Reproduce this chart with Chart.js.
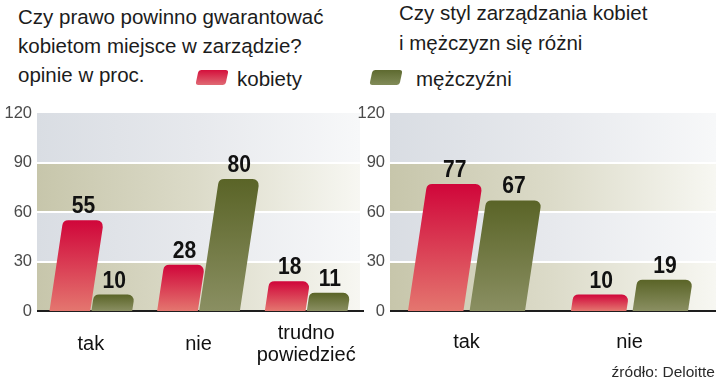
<!DOCTYPE html>
<html><head><meta charset="utf-8">
<script src="https://cdn.jsdelivr.net/npm/chart.js@4/dist/chart.umd.min.js"></script>
<style>
html,body{margin:0;padding:0;background:#fff;}
body{width:720px;height:382px;position:relative;overflow:hidden;font-family:"Liberation Sans",Arial,sans-serif;color:#1c1c1c;}
.t{position:absolute;font-size:20.5px;white-space:nowrap;}
#titleL{left:18px;top:2px;line-height:29px;}
#titleR{left:399px;top:-2px;line-height:30px;}
canvas{position:absolute;top:0;}
#cL{left:0;}
#cR{left:355px;}
.legtxt{position:absolute;top:68.6px;font-size:20.5px;line-height:20.5px;white-space:nowrap;}
.sw{position:absolute;top:70px;width:30px;height:15px;transform:skewX(-12deg);border-radius:3px;}
#src{position:absolute;right:5px;top:364px;font-size:15.5px;line-height:15.5px;color:#2a2a2a;white-space:nowrap;}
</style>
</head>
<body>
<div class="t" id="titleL">Czy prawo powinno gwarantować<br>kobietom miejsce w zarządzie?<br>opinie w proc.</div>
<div class="t" id="titleR">Czy styl zarządzania kobiet<br>i mężczyzn się różni</div>
<div class="sw" id="swK" style="left:197px;"></div>
<div class="legtxt" id="lgK" style="left:237px;"></div>
<div class="sw" id="swM" style="left:371px;"></div>
<div class="legtxt" id="lgM" style="left:416px;"></div>
<canvas id="cL" width="365" height="382"></canvas>
<canvas id="cR" width="365" height="382"></canvas>
<div id="src">źródło: Deloitte</div>
<script>
// ---- data ----
const seriesNames = ['kobiety', 'mężczyźni'];
const leftCategories = ['tak', 'nie', ['trudno', 'powiedzieć']];
const leftKobiety = [55, 28, 18];
const leftMezczyzni = [10, 80, 11];
const rightCategories = ['tak', 'nie'];
const rightKobiety = [77, 10];
const rightMezczyzni = [67, 19];
const yTicks = [0, 30, 60, 90, 120];

// ---- styles ----
const FONT = '"Liberation Sans", Arial, sans-serif';
const RED = {top: '#d0063a', bottom: '#e4766f', mid: '#d93e4c'};
const OLIVE = {top: '#5a6427', bottom: '#8a8f62', mid: '#6f773f'};

document.getElementById('lgK').textContent = seriesNames[0];
document.getElementById('lgM').textContent = seriesNames[1];
document.getElementById('swK').style.background = 'linear-gradient(#d4103c, #e06a74)';
document.getElementById('swM').style.background = 'linear-gradient(#5e6a30, #818b58)';

const SLANT = 0.15, RADIUS = 6;

// plot frame: alternating gradient bands, white grid lines, dark base line
const framePlugin = {
  id: 'frame',
  beforeDraw(chart, args, opts) {
    const {ctx, chartArea: a, scales: {y}} = chart;
    const sh = opts.shift || 0;
    const L = a.left + sh;
    const Rb = a.right + sh;
    ctx.save();
    for (let i = 0; i < yTicks.length - 1; i++) {
      const y0 = y.getPixelForValue(yTicks[i]);
      const y1 = y.getPixelForValue(yTicks[i + 1]);
      const g = ctx.createLinearGradient(L, 0, Rb, 0);
      if (i % 2 === 0) {
        g.addColorStop(0, '#c7c6ab'); g.addColorStop(0.5, '#dcdbc9'); g.addColorStop(1, '#f7f7f2');
      } else {
        g.addColorStop(0, '#d9dde3'); g.addColorStop(0.5, '#e7e9ed'); g.addColorStop(1, '#f7f8f9');
      }
      ctx.fillStyle = g;
      ctx.fillRect(L, y1, Rb - L, y0 - y1);
    }
    ctx.strokeStyle = '#ffffff';
    ctx.lineWidth = 2;
    yTicks.slice(1, -1).forEach(v => {
      const py = Math.round(y.getPixelForValue(v));
      ctx.beginPath(); ctx.moveTo(L, py); ctx.lineTo(Rb, py); ctx.stroke();
    });
    ctx.restore();
  },
  afterDatasetsDraw(chart, args, opts) {
    const {ctx, chartArea: a, scales: {y}} = chart;
    const sh = opts.shift || 0;
    const py = y.getPixelForValue(0);
    ctx.save();
    ctx.strokeStyle = '#1e1e1e';
    ctx.lineWidth = 2;
    ctx.beginPath();
    ctx.moveTo(a.left + sh, py);
    ctx.lineTo(a.right + sh + (opts.extendAxis || 0), py);
    ctx.stroke();
    ctx.restore();
  }
};

const barPlugin = {
  id: 'slantBars',
  beforeDatasetDraw() { return false; },
  afterDatasetsDraw(chart) {
    const ctx = chart.ctx;
    chart.data.datasets.forEach((ds, i) => {
      const meta = chart.getDatasetMeta(i);
      meta.data.forEach((el, j) => {
        const {x, y, base, width} = el.getProps(['x', 'y', 'base', 'width'], true);
        const h = base - y;
        const s = h * SLANT;
        const xl = x - width / 2, xr = x + width / 2;
        const b = base;
        const g = ctx.createLinearGradient(0, y, 0, base);
        g.addColorStop(0, ds.gradTop);
        g.addColorStop(1, ds.gradBottom);
        const r = Math.min(RADIUS, h / 2, width / 2);
        ctx.save();
        ctx.beginPath();
        ctx.moveTo(xl, b);
        ctx.arcTo(xl + s, y, xr + s, y, r);
        ctx.arcTo(xr + s, y, xr, b, r);
        ctx.lineTo(xr, b);
        ctx.closePath();
        ctx.fillStyle = g;
        ctx.fill();
        ctx.restore();
        ctx.save();
        ctx.font = 'bold 24.5px ' + FONT;
        ctx.fillStyle = '#111';
        ctx.textAlign = 'center';
        ctx.textBaseline = 'alphabetic';
        ctx.translate(x + s, y - 7);
        ctx.scale(0.86, 1);
        ctx.fillText(String(ds.data[j]), 0, 0);
        ctx.restore();
      });
    });
  }
};

function makeChart(id, categories, kob, mez, o) {
  return new Chart(document.getElementById(id), {
    type: 'bar',
    data: {
      labels: categories,
      datasets: [
        {label: seriesNames[0], data: kob, backgroundColor: RED.mid, gradTop: RED.top, gradBottom: RED.bottom,
         categoryPercentage: o.cat, barPercentage: o.bar},
        {label: seriesNames[1], data: mez, backgroundColor: OLIVE.mid, gradTop: OLIVE.top, gradBottom: OLIVE.bottom,
         categoryPercentage: o.cat, barPercentage: o.bar}
      ]
    },
    options: {
      responsive: false,
      animation: false,
      devicePixelRatio: 1,
      layout: {padding: {top: 113, left: 0, right: o.padRight, bottom: 0}},
      plugins: {legend: {display: false}, tooltip: {enabled: false}, title: {display: false},
                frame: {shift: o.shift, extendAxis: o.extendAxis}},
      scales: {
        x: {
          ticks: {font: {family: FONT, size: 20, lineHeight: 1.1}, color: '#111', padding: o.xPad,
                  crossAlign: 'center', maxRotation: 0, autoSkip: false},
          grid: {display: false, drawTicks: false, tickLength: 0},
          border: {display: false},
          afterFit: s => { s.height = 71; s.paddingLeft = 0; s.paddingRight = 0; }
        },
        y: {
          min: 0, max: 120,
          afterBuildTicks: s => { s.ticks = yTicks.map(v => ({value: v})); },
          ticks: {font: {family: FONT, size: 16.5}, color: '#4a4a4a', padding: o.yPad},
          grid: {display: false, drawTicks: false},
          border: {display: false},
          afterFit: s => { s.width = o.yWidth; s.paddingTop = 0; s.paddingBottom = 0; }
        }
      }
    },
    plugins: [framePlugin, barPlugin]
  });
}

makeChart('cL', leftCategories, leftKobiety, leftMezczyzni,
  {cat: 0.78, bar: 0.97, padRight: 5, yWidth: 37, xPad: 22, yPad: 5, shift: 0, extendAxis: 4});
makeChart('cR', rightCategories, rightKobiety, rightMezczyzni,
  {cat: 0.756, bar: 0.9, padRight: 9, yWidth: 30, xPad: 31, yPad: 0, shift: 5, extendAxis: 0});
</script>
</body></html>
